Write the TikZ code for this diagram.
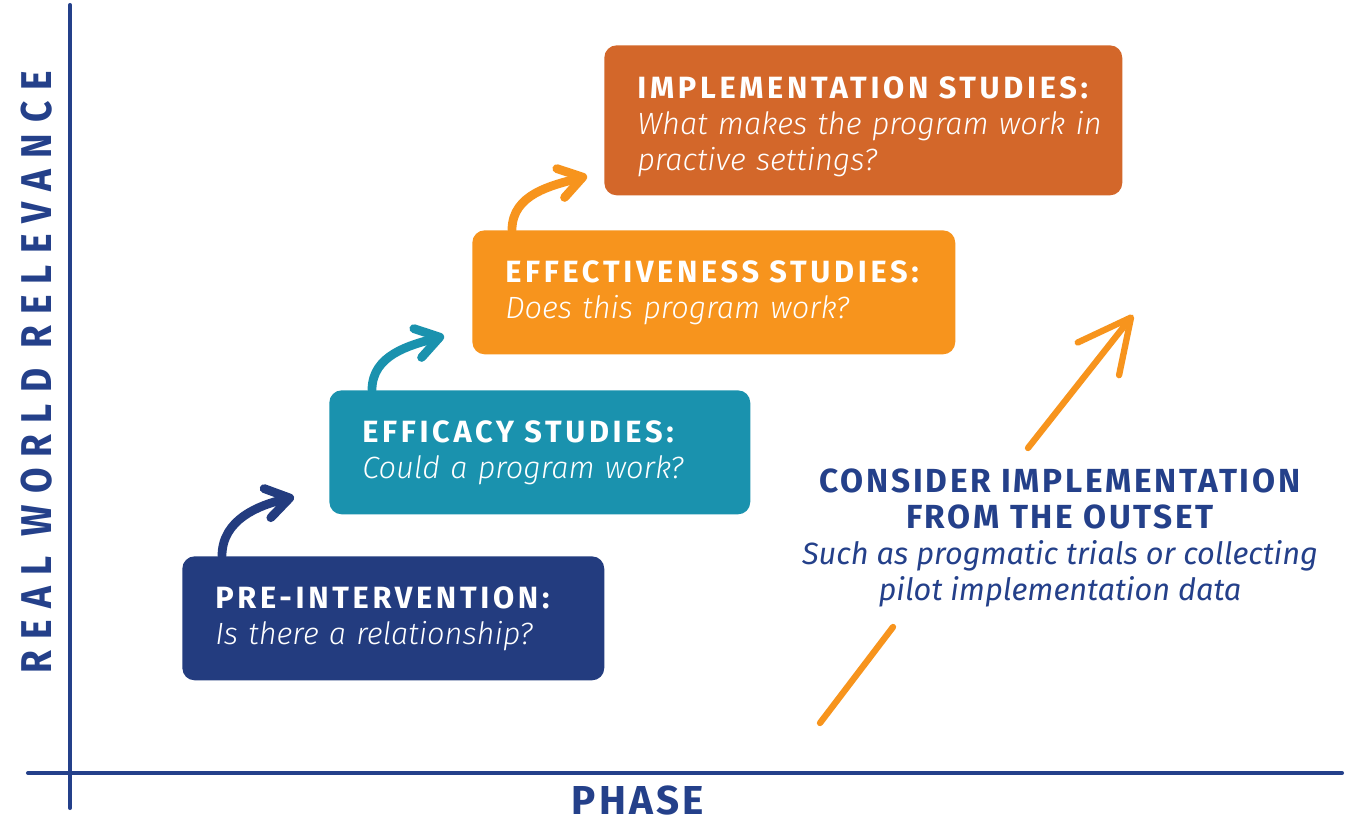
\documentclass[tikz,border=0pt]{standalone}
\usepackage{fontspec}
\setmainfont{Fira Sans}[ItalicFont={Fira Sans Light Italic}]
\newfontfamily\titlefont{Fira Sans}[LetterSpace=12]
\newfontfamily\condfont{Fira Sans}[LetterSpace=8]
\newfontfamily\askfont{Fira Sans}
\newfontfamily\axisfont{Fira Sans}[FakeStretch=0.86,LetterSpace=26]
\usetikzlibrary{arrows.meta}
\definecolor{navy}{HTML}{233C7F}
\definecolor{teal}{HTML}{1A92AE}
\definecolor{amber}{HTML}{F7941D}
\definecolor{rust}{HTML}{D3672A}
\definecolor{axisblue}{HTML}{24408A}
\begin{document}
\begin{tikzpicture}[>={Straight Barb[length=13pt,width=17pt,round]},line join=round,x=0.02cm,y=0.02cm,
  stepbox/.style={rounded corners=7pt,inner xsep=0.66cm,inner ysep=0pt,anchor=north west,
    align=left,text=white,font=\fontsize{17.5}{20.5}\selectfont},
  steparrow/.style={->,line width=5pt,line cap=round},
  bigarrow/.style={line width=3.6pt,line cap=round,amber},
  axisline/.style={line width=2.3pt,line cap=round,axisblue}]
%%
  \fill [white] (0,0) rectangle (1352,819);
  \useasboundingbox (0,0) rectangle (1352,819);
%
  \coordinate (o_top) at (70,814);
  \coordinate (o_bot) at (70,11);
  \coordinate (o_left) at (28,46);
  \coordinate (o_right) at (1342,46);
  \draw [axisline] (o_top) -- (o_bot);
  \draw [axisline] (o_left) -- (o_right);
  \node (node_5) at (37,447) [rotate=90,text=axisblue,font=\axisfont\bfseries\fontsize{24.5}{26}\selectfont] {REAL WORLD RELEVANCE};
  \node (node_6) at (638,5) [anchor=base,inner sep=0pt,text=axisblue,font=\condfont\bfseries\fontsize{23}{24}\selectfont] {PHASE};
%
  \node (node_0) at (182,263) [stepbox,fill=navy,text width=7.12cm,minimum height=2.48cm] {{\titlefont\bfseries PRE-INTERVENTION:}\\{\itshape Is there a relationship?}};
  \node (node_1) at (329,429) [stepbox,fill=teal,text width=7.1cm,minimum height=2.48cm] {{\titlefont\bfseries EFFICACY STUDIES:}\\{\itshape Could a program work?}};
  \node (node_2) at (472,589) [stepbox,fill=amber,text width=8.34cm,minimum height=2.48cm] {{\titlefont\bfseries EFFECTIVENESS STUDIES:}\\{\itshape Does this program work?}};
  \node (node_3) at (604,774) [stepbox,fill=rust,text width=9.04cm,minimum height=3cm] {\rule{0pt}{20pt}\mbox{\titlefont\bfseries IMPLEMENTATION STUDIES:}\\\mbox{\itshape What makes the program work in}\\{\itshape practive settings?}};
%
  \coordinate (c_0) at (222,263);
  \coordinate (c_1) at (294,322);
  \coordinate (c_2) at (372,429);
  \coordinate (c_3) at (444,483);
  \coordinate (c_4) at (512,589);
  \coordinate (c_5) at (587,643);
  \draw [steparrow,navy] (c_0) to [out=90,in=193] (c_1);
  \draw [steparrow,teal] (c_2) to [out=90,in=195] (c_3);
  \draw [steparrow,amber] (c_4) to [out=90,in=195] (c_5);
%
  \node (node_4) at (1060,281) [align=center,text=axisblue,font=\fontsize{19}{20.5}\selectfont] {{\condfont\bfseries CONSIDER IMPLEMENTATION}\\{\condfont\bfseries FROM THE OUTSET}\\{\askfont\itshape\fontsize{17.5}{20.5}\selectfont Such as progmatic trials or collecting}\\{\askfont\itshape\fontsize{17.5}{20.5}\selectfont pilot implementation data}};
  \coordinate (c_6) at (820,96);
  \coordinate (c_7) at (893,192);
  \coordinate (c_8) at (1028,371);
  \coordinate (c_9) at (1133,504);
  \draw [bigarrow] (c_6) -- (c_7);
  \draw [bigarrow,-{Straight Barb[length=30pt,width=30pt,round]}] (c_8) -- (c_9);
%
\end{tikzpicture}
\end{document}
